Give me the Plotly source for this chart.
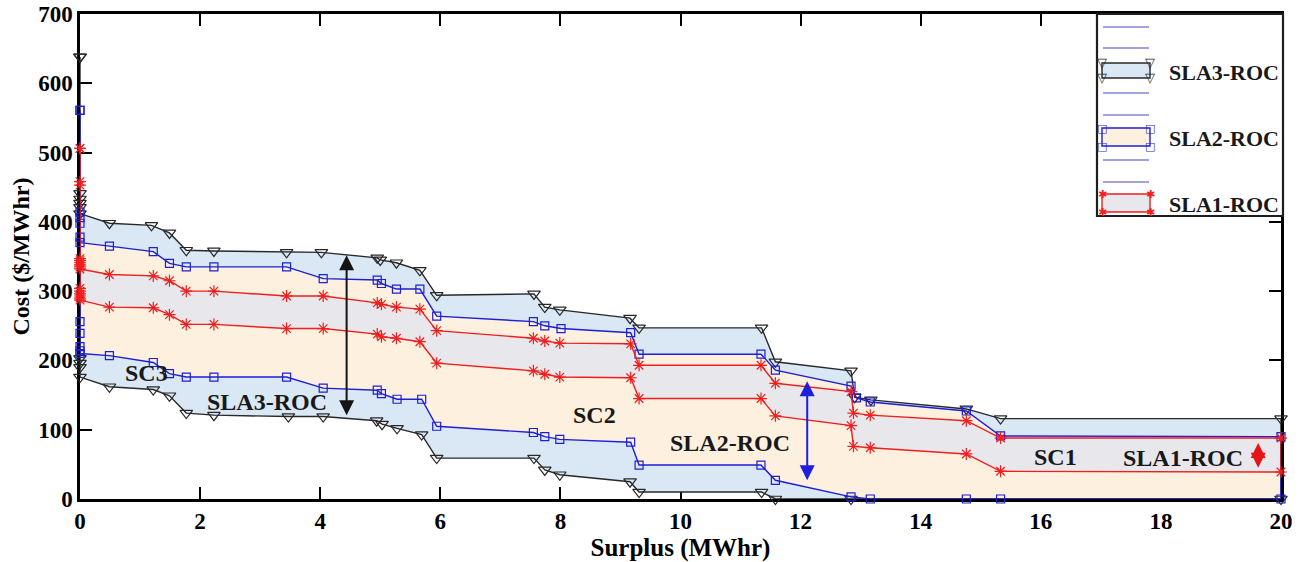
import plotly.graph_objects as go

# ---------------- data ----------------
sla3_up_x = [0, 0, 0, 0, 0, 0, 0.49, 1.19, 1.49, 1.77, 2.23, 3.44, 4.02, 4.95, 5.0, 5.27, 5.66, 5.94,
             7.56, 7.74, 7.99, 9.16, 9.31, 11.35, 11.58, 12.84, 12.9, 13.17, 14.76, 15.33, 20]
sla3_up_y = [638, 441, 433, 427, 421, 412, 398, 395, 384, 359, 358, 356, 356, 348, 345, 341, 330, 294,
             296, 277, 273, 261, 247, 247, 198, 185, 147, 143, 130, 116, 116]
sla3_lo_x = [0, 0, 0, 0, 0.49, 1.22, 1.49, 1.77, 2.23, 3.47, 4.05, 4.94, 5.03, 5.28, 5.69, 5.94,
             7.56, 7.74, 7.99, 9.16, 9.31, 11.35, 11.58, 12.84, 20]
sla3_lo_y = [203, 196, 190, 176, 162, 158, 149, 124, 121, 119, 119, 113, 108, 102, 93, 59,
             59, 42, 35, 25, 10, 10, 0, 0, 0]

sla2_up_x = [0, 0, 0, 0, 0, 0, 0.49, 1.22, 1.49, 1.77, 2.23, 3.44, 4.05, 4.95, 5.02, 5.27, 5.66, 5.94,
             7.55, 7.74, 8.01, 9.17, 9.31, 11.34, 11.58, 12.84, 12.93, 13.16, 14.76, 15.33, 20]
sla2_up_y = [561, 414, 406, 398, 378, 370, 365, 357, 340, 335, 335, 335, 318, 316, 311, 303, 303, 264,
             256, 250, 246, 240, 209, 209, 186, 163, 146, 140, 127, 91, 90]
sla2_lo_x = [0, 0, 0, 0, 0, 0.49, 1.22, 1.49, 1.77, 2.23, 3.44, 4.05, 4.95, 5.02, 5.28, 5.69, 5.94,
             7.55, 7.74, 7.99, 9.17, 9.31, 11.34, 11.58, 12.84, 13.16, 14.76, 15.33, 20]
sla2_lo_y = [256, 239, 220, 214, 210, 207, 197, 181, 176, 176, 176, 160, 157, 152, 144, 144, 105,
             96, 90, 86, 82, 49, 49, 27, 3, 0, 0, 0, 0]

sla1_up_x = [0, 0, 0, 0, 0, 0, 0, 0, 0, 0.49, 1.22, 1.49, 1.77, 2.23, 3.44, 4.05, 4.95, 5.02, 5.27,
             5.66, 5.94, 7.55, 7.74, 7.99, 9.17, 9.31, 11.34, 11.58, 12.84, 12.88, 13.16, 14.76, 15.33, 20]
sla1_up_y = [506, 458, 453, 347, 344, 341, 338, 335, 332, 324, 322, 315, 300, 300, 293, 293, 283, 281, 277,
             274, 243, 232, 228, 225, 224, 193, 193, 167, 155, 124, 121, 113, 88, 88]
sla1_lo_x = [0, 0, 0, 0, 0, 0, 0.49, 1.22, 1.49, 1.77, 2.23, 3.44, 4.05, 4.95, 5.02, 5.27, 5.66, 5.94,
             7.55, 7.74, 7.99, 9.17, 9.31, 11.34, 11.58, 12.84, 12.88, 13.16, 14.76, 15.33, 20]
sla1_lo_y = [304, 300, 296, 293, 290, 287, 277, 276, 266, 252, 252, 246, 246, 238, 234, 232, 227, 196,
             185, 180, 176, 175, 145, 145, 120, 106, 76, 74, 65, 40, 39]

series_names = ["SLA3-ROC", "SLA2-ROC", "SLA1-ROC"]
region_labels = ["SC3", "SLA3-ROC", "SC2", "SLA2-ROC", "SC1", "SLA1-ROC"]
region_x = [1.1, 3.11, 8.56, 10.83, 16.24, 18.36]
region_y = [182, 140, 121, 81, 61, 59]
arrow_x = [4.44, 12.11, 19.62]
arrow_top = [354, 172, 83]
arrow_bot = [121, 27, 45]
x_ticks = list(range(0, 21, 2))
y_ticks = list(range(0, 701, 100))

# ---------------- styles ----------------
fill_cols = ["rgb(218,232,246)", "rgb(253,240,222)", "rgb(232,232,236)"]
line_cols = ["rgb(40,40,40)", "rgb(30,30,210)", "rgb(240,30,30)"]
symbols = ["triangle-down-open", "square-open", "asterisk-open"]
msizes = [11, 8, 10]
arrow_cols = ["rgb(20,20,20)", "rgb(30,30,220)", "rgb(230,20,20)"]
SERIF = "Liberation Serif"

ups = [(sla3_up_x, sla3_up_y), (sla2_up_x, sla2_up_y), (sla1_up_x, sla1_up_y)]
los = [(sla3_lo_x, sla3_lo_y), (sla2_lo_x, sla2_lo_y), (sla1_lo_x, sla1_lo_y)]

fig = go.Figure()

polys = []
for (ux, uy), (lx, ly) in zip(ups, los):
    px_ = list(ux) + list(lx)[::-1]
    py_ = list(uy) + list(ly)[::-1]
    polys.append((px_, py_))

for i, (px_, py_) in enumerate(polys):
    fig.add_trace(go.Scatter(x=px_, y=py_, fill="toself", fillcolor=fill_cols[i], mode="none",
                             hoverinfo="skip", showlegend=False))

for i, (px_, py_) in enumerate(polys):
    fig.add_trace(go.Scatter(
        x=px_ + [px_[0]], y=py_ + [py_[0]], mode="lines+markers", name=series_names[i],
        line=dict(color=line_cols[i], width=1.4),
        marker=dict(symbol=symbols[i], size=msizes[i], color=line_cols[i],
                    line=dict(color=line_cols[i], width=1.2)),
        cliponaxis=False, showlegend=False))

annotations = []
for t, x, y in zip(region_labels, region_x, region_y):
    annotations.append(dict(x=x, y=y, xref="x", yref="y", text=f"<b>{t}</b>", showarrow=False,
                            font=dict(family=SERIF, size=24, color="rgb(25,25,25)")))
for x, yt, yb, c in zip(arrow_x, arrow_top, arrow_bot, arrow_cols):
    annotations.append(dict(x=x, y=yb, ax=x, ay=yt, xref="x", yref="y", axref="x", ayref="y",
                            text="", showarrow=True, arrowhead=2, arrowside="end+start",
                            arrowsize=1.5, arrowwidth=2, arrowcolor=c))

# ---------------- manual legend (decoration, pixel placed) ----------------
L, R, T, B = 80, 1281, 14, 499
def pxp(xp):
    return (xp - L) / (R - L)
def pyp(yp):
    return (B - yp) / (B - T)

shapes = [dict(type="rect", xref="paper", yref="paper", x0=pxp(1097), x1=pxp(1283), y0=pyp(216), y1=pyp(14),
               fillcolor="white", line=dict(color="rgb(30,30,30)", width=2.2), layer="above")]
for yl in [27, 48, 93, 115, 160, 182]:
    shapes.append(dict(type="line", xref="paper", yref="paper", x0=pxp(1103), x1=pxp(1149),
                       y0=pyp(yl), y1=pyp(yl), line=dict(color="rgb(70,70,190)", width=1), layer="above"))
leg_rows = [(63, 78, 72), (128, 146, 138), (194, 212, 204)]
glyphs = ["▽", "□", "✱"]
gsizes = [13, 11, 11]
for i, (y0, y1, yt) in enumerate(leg_rows):
    shapes.append(dict(type="rect", xref="paper", yref="paper", x0=pxp(1102), x1=pxp(1150),
                       y0=pyp(y1), y1=pyp(y0), fillcolor=fill_cols[i],
                       line=dict(color=line_cols[i], width=1.4), layer="above"))
    for cx in (1102, 1150):
        for cy in (y0, y1):
            annotations.append(dict(x=pxp(cx), y=pyp(cy), xref="paper", yref="paper", text=glyphs[i],
                                    showarrow=False, font=dict(family="DejaVu Sans", size=gsizes[i],
                                                               color=line_cols[i]),
                                    xanchor="center", yanchor="middle"))
    annotations.append(dict(x=pxp(1167), y=pyp(yt), xref="paper", yref="paper",
                            text=f"<b>{series_names[i]}</b>", showarrow=False, xanchor="left",
                            yanchor="middle", font=dict(family=SERIF, size=22, color="rgb(25,25,25)")))

axis_common = dict(showgrid=False, zeroline=False, showline=True, linecolor="black", linewidth=2.5,
                   mirror="ticks", ticks="inside", ticklen=12, tickwidth=2, tickcolor="black",
                   layer="below traces", automargin=False,
                   tickfont=dict(family=SERIF, size=23, color="black", weight="bold"))

fig.update_layout(
    width=1304, height=562, margin=dict(l=80, r=23, t=14, b=63),
    plot_bgcolor="white", paper_bgcolor="white",
    xaxis=dict(range=[0, 20], tickvals=x_ticks, ticktext=[str(v) for v in x_ticks],
               title=dict(text="<b>Surplus (MWhr)</b>", font=dict(family=SERIF, size=25, color="black"),
                          standoff=0), **axis_common),
    yaxis=dict(range=[0, 700], tickvals=y_ticks, ticktext=[str(v) for v in y_ticks],
               title=dict(text="<b>Cost ($/MWhr)</b>", font=dict(family=SERIF, size=24, color="black"),
                          standoff=2), **axis_common),
    shapes=shapes, annotations=annotations, showlegend=False,
)

fig.write_html("out.html", config={"displayModeBar": False})
with open("out.html", "r", encoding="utf-8") as f:
    html = f.read()
html = html.replace("<head>", "<head><style>html,body{margin:0;padding:0;overflow:hidden;}</style>", 1)
with open("out.html", "w", encoding="utf-8") as f:
    f.write(html)
